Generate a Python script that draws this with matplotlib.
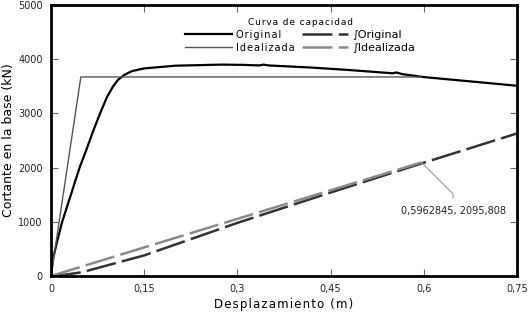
import matplotlib
matplotlib.use("Agg")
import matplotlib.pyplot as plt

# curva de capacidad (desplazamiento en m, cortante en kN)
orig_x = [0, 0.003, 0.009, 0.018, 0.032, 0.046, 0.057, 0.068, 0.079, 0.09, 0.1, 0.108,
          0.118, 0.13, 0.15, 0.2, 0.275, 0.31, 0.335, 0.342, 0.35, 0.42, 0.48, 0.55,
          0.556, 0.565, 0.6, 0.68, 0.75]
orig_y = [0, 300, 600, 1000, 1500, 2000, 2330, 2680, 3000, 3300, 3500, 3620,
          3710, 3780, 3830, 3880, 3900, 3895, 3885, 3900, 3885, 3845, 3800, 3740,
          3755, 3725, 3670, 3585, 3510]

ideal_x = [0, 0.048, 0.596]
ideal_y = [0, 3672, 3672]

orig2_x = [0, 0.008, 0.05, 0.15, 0.3, 0.45, 0.6, 0.75]
orig2_y = [0, 0, 70, 380, 980, 1540, 2090, 2630]

ideal2_x = [0, 0.5962845]
ideal2_y = [0, 2095.808]

xticks = [0, 0.15, 0.3, 0.45, 0.6, 0.75]
xlabels = ["0", "0,15", "0,3", "0,45", "0,6", "0,75"]
yticks = [0, 1000, 2000, 3000, 4000, 5000]


def spaced(s):
    return "\u200a".join(s)


fig = plt.figure(figsize=(5.28, 3.12), dpi=100)
ax = fig.add_axes([0.0966, 0.1154, 0.8826, 0.8686])

ax.plot(orig_x, orig_y, color="black", lw=1.6, label=spaced("Original"))
ax.plot(ideal_x, ideal_y, color="#555555", lw=1.0, label=spaced("Idealizada"))
ax.plot(orig2_x, orig2_y, color="#333333", lw=1.8, dashes=(12, 2.5), label="∫Original")
ax.plot(ideal2_x, ideal2_y, color="#8a8a8a", lw=1.8, dashes=(12, 2.5), label="∫Idealizada")

ax.annotate("0,5962845, 2095,808", xy=(ideal2_x[1], ideal2_y[1]), xytext=(0.647, 1190),
            ha="center", va="center", fontsize=7, color="#222222",
            arrowprops=dict(arrowstyle="-", color="#999999", lw=0.8, relpos=(0.5, 1.0),
                            shrinkA=4, shrinkB=0,
                            connectionstyle="angle,angleA=90,angleB=-45,rad=0"))

ax.set_xlim(0, 0.75)
ax.set_ylim(0, 5000)
ax.set_xticks(xticks)
ax.set_xticklabels(xlabels)
ax.set_yticks(yticks)
ax.tick_params(direction="in", length=5, width=0.8, color="#666666",
               labelsize=7, top=True, right=True, pad=6, labelcolor="#222222")
for s in ax.spines.values():
    s.set_linewidth(2.0)

ax.set_xlabel(spaced("Desplazamiento (m)"), fontsize=8.5, labelpad=3)
ax.set_ylabel("Cortante en la base (kN)", fontsize=9, labelpad=2)

leg = ax.legend(ncol=2, title=spaced("Curva de capacidad"), frameon=False,
                loc="upper center", bbox_to_anchor=(0.535, 0.985), fontsize=8,
                title_fontsize=6.5, handlelength=4.2, handletextpad=0.4,
                columnspacing=0.6, labelspacing=0.25, borderpad=0.3)
for t in leg.get_texts()[:2]:
    t.set_fontsize(7)

fig.savefig("out.png", dpi=100)
